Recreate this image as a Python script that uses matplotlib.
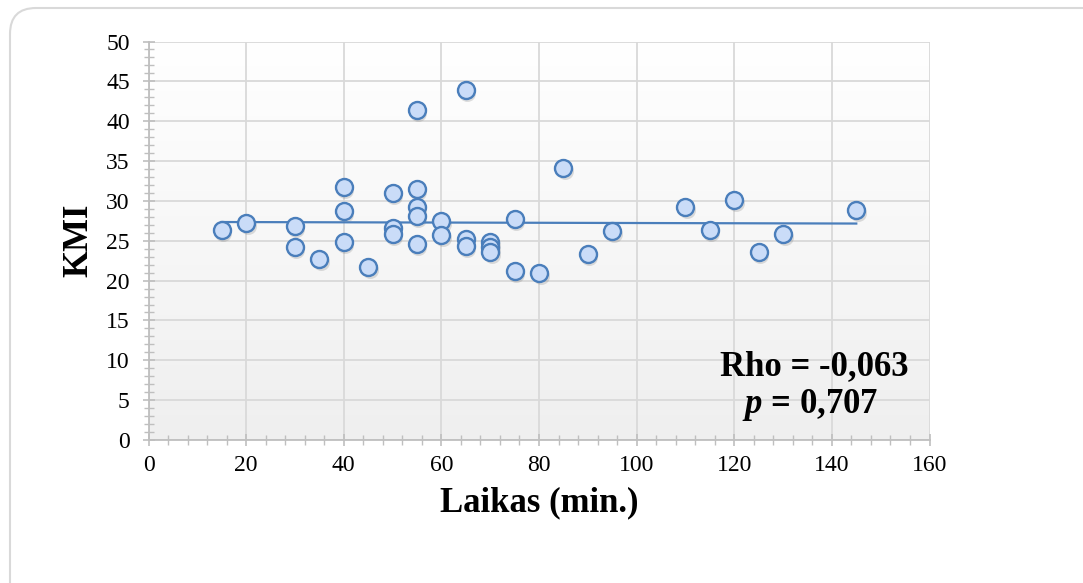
import numpy as np
import matplotlib
matplotlib.use("Agg")
import matplotlib.pyplot as plt
from matplotlib.patches import FancyBboxPatch
from matplotlib.colors import LinearSegmentedColormap
import matplotlib.transforms as mtransforms
from matplotlib.ticker import MultipleLocator

# ---- data ----
laikas = [15, 20, 30, 30, 35, 40, 40, 40, 45, 50, 50, 50,
          55, 55, 55, 55, 55, 60, 60, 65, 65, 65, 70, 70, 70,
          75, 75, 80, 85, 90, 95, 110, 115, 120, 125, 130, 145]
kmi = [26.3, 27.2, 26.85, 24.2, 22.7, 31.7, 28.7, 24.8, 21.7, 31.0, 26.6, 25.9,
       41.4, 31.5, 29.2, 28.1, 24.6, 27.5, 25.7, 43.9, 25.2, 24.3, 24.8, 24.2, 23.6,
       27.7, 21.2, 21.0, 34.1, 23.4, 26.2, 29.2, 26.4, 30.1, 23.55, 25.8, 28.8]
x_ticks = [0, 20, 40, 60, 80, 100, 120, 140, 160]
y_ticks = [0, 5, 10, 15, 20, 25, 30, 35, 40, 45, 50]
x_label = "Laikas (min.)"
y_label = "KMI"
rho_text = "Rho = -0,063"
p_text = "$\\mathit{p}$ = 0,707"

plt.rcParams['font.family'] = ['Liberation Serif', 'DejaVu Serif']
plt.rcParams['mathtext.fontset'] = 'custom'
plt.rcParams['mathtext.it'] = 'Liberation Serif:italic:bold'
plt.rcParams['mathtext.rm'] = 'Liberation Serif:bold'

W, H = 1083, 583
fig = plt.figure(figsize=(W / 100, H / 100), dpi=100)
fig.patch.set_facecolor('white')

# outer rounded border
border = FancyBboxPatch((10 / W, 1 - 1200 / H), 1200 / W, (1200 - 8) / H,
                        boxstyle="round,pad=0,rounding_size=0.024",
                        transform=fig.transFigure, facecolor='none',
                        edgecolor='#d9d9d9', linewidth=1.5, mutation_aspect=W / H)
fig.patches.append(border)

ax = fig.add_axes([148.5 / W, 1 - 440 / H, (929.5 - 148.5) / W, (440 - 41.5) / H])
ax.set_xlim(0, 160)
ax.set_ylim(0, 50)

# gradient background
cmap = LinearSegmentedColormap.from_list('bg', ['#efefef', '#ffffff'])
grad = np.linspace(0, 1, 256).reshape(-1, 1)
ax.imshow(grad, extent=[0, 160, 0, 50], origin='lower', aspect='auto',
          cmap=cmap, zorder=0)

ax.set_xticks(x_ticks)
ax.set_yticks(y_ticks)
ax.xaxis.set_minor_locator(MultipleLocator(4))
ax.yaxis.set_minor_locator(MultipleLocator(1))
ax.grid(True, which='major', color='#d9d9d9', linewidth=1.3, zorder=1)
ax.set_axisbelow(True)
for s in ['top', 'right']:
    ax.spines[s].set_visible(False)
for s in ['left', 'bottom']:
    ax.spines[s].set_color('#bfbfbf')
    ax.spines[s].set_linewidth(1.3)
ax.tick_params(which='major', direction='inout', length=9, width=1.2, color='#bfbfbf',
               labelsize=17, labelcolor='black')
ax.tick_params(axis='y', which='major', pad=9)
ax.tick_params(axis='x', which='major', pad=6)
ax.tick_params(which='minor', direction='inout', length=7, width=1.0, color='#bfbfbf')

# marker shadow
shadow_tr = mtransforms.offset_copy(ax.transData, fig=fig, x=1.5, y=-3.0, units='dots')
ax.scatter(laikas, kmi, s=150, color='#7f7f7f', alpha=0.25, linewidths=0,
           transform=shadow_tr, zorder=2)
ax.scatter(laikas, kmi, s=150, facecolor='#cadcf8', edgecolor='#4a7ebb',
           linewidths=1.7, zorder=4)

# linear trend line
coef = np.polyfit(laikas, kmi, 1)
xs = np.array([min(laikas), max(laikas)])
ax.plot(xs, np.polyval(coef, xs), color='#4a7ebb', linewidth=1.6, zorder=3)

ax.set_xlabel(x_label, fontsize=25, fontweight='bold', labelpad=8)
ax.set_ylabel(y_label, fontsize=25, fontweight='bold', labelpad=8)

fig.text(814 / W, 1 - 367 / H, rho_text, fontsize=25, fontweight='bold',
         ha='center', va='center')
fig.text(810 / W, 1 - 405 / H, p_text, fontsize=25, fontweight='bold',
         ha='center', va='center')

fig.savefig('out.png', dpi=100)
